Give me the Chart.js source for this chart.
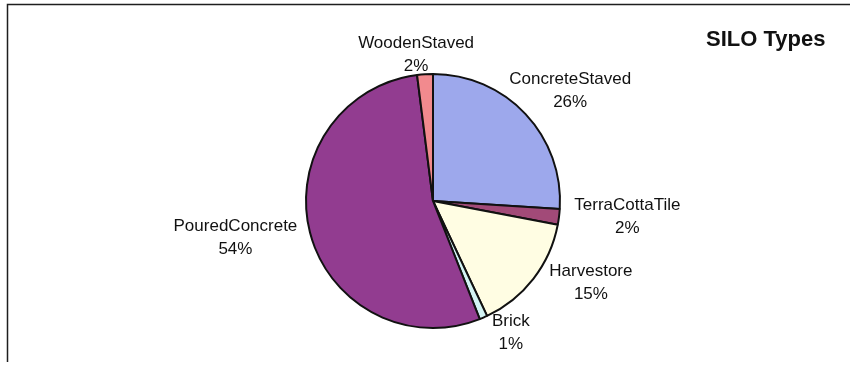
<!DOCTYPE html>
<html>
<head>
<meta charset="utf-8">
<script src="https://cdn.jsdelivr.net/npm/chart.js@4/dist/chart.umd.min.js"></script>
<style>
  html, body { margin: 0; padding: 0; background: #fff; }
  #wrap { width: 850px; height: 365px; position: relative; }
</style>
</head>
<body>
<div id="wrap"><canvas id="c" width="850" height="365"></canvas></div>
<script>
// ---- data ----
const categories = ["ConcreteStaved", "TerraCottaTile", "Harvestore", "Brick", "PouredConcrete", "WoodenStaved"];
const percentLabels = ["26%", "2%", "15%", "1%", "54%", "2%"];
const values = [26, 2, 15, 1, 54, 2];
const chartTitle = "SILO Types";

// ---- styles ----
const sliceColors = ["#9DA8EC", "#A24A78", "#FFFDE3", "#D3F4F4", "#923C90", "#F28A8E"];
// label placement: distance from pie centre and angular nudge (deg) from slice mid-angle
const labelDist = [176, 195, 178, 153, 201, 147];
const labelNudge = [4.4, -2.5, -10.3, -7.2, 3.8, -3.0];

const framePlugin = {
  id: 'frame',
  beforeDraw(chart) {
    const ctx = chart.ctx;
    ctx.save();
    ctx.fillStyle = '#fff';
    ctx.fillRect(0, 0, chart.width, chart.height);
    ctx.strokeStyle = '#1e1e1e';
    ctx.lineWidth = 1.5;
    ctx.beginPath();
    ctx.moveTo(7.5, 362);
    ctx.lineTo(7.5, 4.5);
    ctx.lineTo(850, 4.5);
    ctx.stroke();
    ctx.restore();
  }
};

function drawText(ctx, txt, x, y, font) {
  ctx.save();
  ctx.font = font;
  ctx.fillText(txt, x, y);
  ctx.restore();
}

const labelPlugin = {
  id: 'labels',
  afterDraw(chart) {
    const ctx = chart.ctx;
    const meta = chart.getDatasetMeta(0);
    ctx.save();
    ctx.fillStyle = '#111';
    ctx.textAlign = 'center';
    ctx.textBaseline = 'middle';
    const f = '17px "Liberation Sans", Arial, sans-serif';
    meta.data.forEach((arc, i) => {
      const mid = (arc.startAngle + arc.endAngle) / 2 + labelNudge[i] * Math.PI / 180;
      const cx = arc.x + Math.cos(mid) * labelDist[i];
      const cy = arc.y + Math.sin(mid) * labelDist[i];
      drawText(ctx, categories[i], cx, cy - 11.5, f);
      drawText(ctx, percentLabels[i], cx, cy + 11.5, f);
    });
    ctx.textAlign = 'left';
    drawText(ctx, chartTitle, 706, 40, 'bold 22px "Liberation Sans", Arial, sans-serif');
    ctx.restore();
  }
};

new Chart(document.getElementById('c'), {
  type: 'pie',
  data: {
    labels: categories,
    datasets: [{
      data: values,
      backgroundColor: sliceColors,
      borderColor: '#111',
      borderWidth: 2
    }]
  },
  options: {
    responsive: false,
    animation: false,
    radius: 127,
    layout: { padding: { left: 16, right: 0, top: 74, bottom: 37 } },
    plugins: {
      legend: { display: false },
      title: { display: false },
      tooltip: { enabled: false }
    }
  },
  plugins: [framePlugin, labelPlugin]
});
</script>
</body>
</html>
